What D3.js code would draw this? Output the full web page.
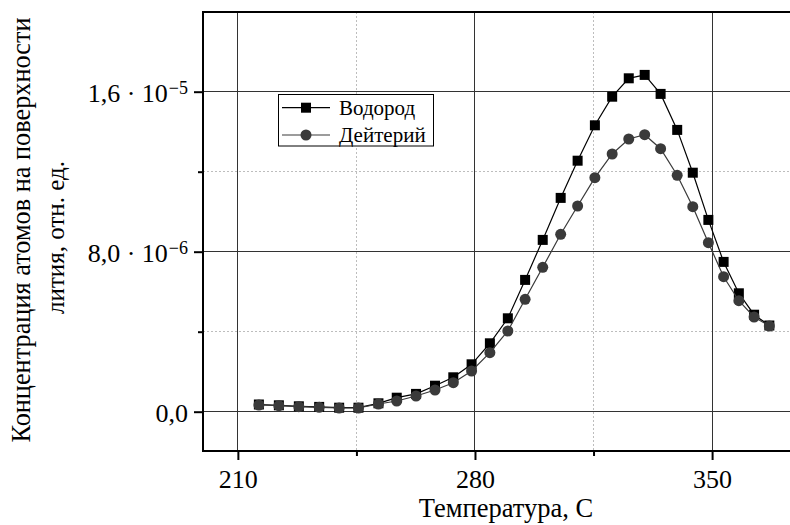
<!DOCTYPE html>
<html><head><meta charset="utf-8">
<script src="https://cdn.jsdelivr.net/npm/d3@7"></script>
<style>
body{margin:0;background:#fff}
svg{display:block}
</style>
</head><body>
<svg id="c" width="790" height="525" font-family="'Liberation Serif', serif"></svg>
<script>
// ---- data ----
const temperature = [216.2, 222.1, 228.0, 234.0, 239.9, 245.6, 251.5, 256.9, 262.6, 268.2,
  273.6, 279.0, 284.4, 289.7, 294.8, 300.0, 305.3, 310.3, 315.4, 320.5,
  325.4, 330.1, 334.8, 339.7, 344.3, 348.9, 353.4, 357.9, 362.4, 366.9];
const hydrogen = [0.36e-6, 0.32e-6, 0.27e-6, 0.24e-6, 0.20e-6, 0.20e-6, 0.42e-6, 0.70e-6, 0.89e-6, 1.30e-6,
  1.72e-6, 2.37e-6, 3.42e-6, 4.67e-6, 6.59e-6, 8.59e-6, 10.69e-6, 12.55e-6, 14.32e-6, 15.75e-6,
  16.67e-6, 16.84e-6, 15.89e-6, 14.09e-6, 11.95e-6, 9.59e-6, 7.49e-6, 5.92e-6, 4.85e-6, 4.31e-6];
const deuterium = [0.335e-6, 0.30e-6, 0.25e-6, 0.22e-6, 0.185e-6, 0.185e-6, 0.385e-6, 0.535e-6, 0.785e-6, 1.085e-6,
  1.45e-6, 2.035e-6, 2.95e-6, 4.035e-6, 5.62e-6, 7.22e-6, 8.87e-6, 10.285e-6, 11.70e-6, 12.885e-6,
  13.635e-6, 13.85e-6, 13.15e-6, 11.82e-6, 10.25e-6, 8.45e-6, 6.75e-6, 5.55e-6, 4.735e-6, 4.285e-6];
const seriesNames = ["Водород", "Дейтерий"];
const xMajor = [210, 280, 350];
const xMinor = [245, 315];
const yMajor = [0, 8e-6, 1.6e-5];
const yMinor = [4e-6, 1.2e-5];
const yTickBase = ["0,0", "8,0 · 10", "1,6 · 10"];
const yTickExp = ["", "−6", "−5"];
const xTitle = "Температура, С";
const yTitle1 = "Концентрация атомов на поверхности";
const yTitle2 = "лития, отн. ед.";

// ---- scales ----
const FONT = "Liberation Serif";
const svg = d3.select("#c");
const x = d3.scaleLinear().domain([200, 373]).range([204, 790]);
const y = d3.scaleLinear().domain([-2e-6, 2e-5]).range([451.7, 11.7]);
const cr = v => Math.floor(v) + 0.5;
const L = 203, R = 790, T = 12, B = 451;

// grid
const g = svg.append("g");
g.selectAll(".xmin").data(xMinor).join("line")
  .attr("x1", d => cr(x(d))).attr("x2", d => cr(x(d))).attr("y1", T).attr("y2", B)
  .attr("stroke", "#bdbdbd").attr("stroke-width", 1).attr("stroke-dasharray", "2,2");
g.selectAll(".ymin").data(yMinor).join("line")
  .attr("y1", d => cr(y(d))).attr("y2", d => cr(y(d))).attr("x1", L).attr("x2", R)
  .attr("stroke", "#bdbdbd").attr("stroke-width", 1).attr("stroke-dasharray", "2,2");
g.selectAll(".xmaj").data(xMajor).join("line")
  .attr("x1", d => cr(x(d))).attr("x2", d => cr(x(d))).attr("y1", T).attr("y2", B)
  .attr("stroke", "#333").attr("stroke-width", 1);
g.selectAll(".ymaj").data(yMajor).join("line")
  .attr("y1", d => cr(y(d))).attr("y2", d => cr(y(d))).attr("x1", L).attr("x2", R)
  .attr("stroke", "#333").attr("stroke-width", 1);

// axes ticks
const fs = 26;
const xAxis = svg.append("g").attr("transform", `translate(0,${B})`)
  .call(d3.axisBottom(x).tickValues(xMajor).tickSize(9).tickSizeOuter(0).tickPadding(10));
xAxis.attr("font-family", FONT).attr("font-size", fs);
xAxis.select(".domain").remove();
xAxis.selectAll("line").attr("stroke", "#000").attr("stroke-width", 2);
xAxis.selectAll("text").attr("fill", "#000");
const xAxisMin = svg.append("g").attr("transform", `translate(0,${B})`)
  .call(d3.axisBottom(x).tickValues(xMinor).tickSize(5).tickFormat(""));
xAxisMin.select(".domain").remove();
xAxisMin.selectAll("line").attr("stroke", "#000").attr("stroke-width", 2);

const yAxis = svg.append("g").attr("transform", `translate(${L},0)`)
  .call(d3.axisLeft(y).tickValues(yMajor).tickSize(9).tickSizeOuter(0).tickPadding(6).tickFormat(""));
yAxis.attr("font-family", FONT).attr("font-size", fs);
yAxis.select(".domain").remove();
yAxis.selectAll("line").attr("stroke", "#000").attr("stroke-width", 2);
yAxis.selectAll("text").each(function(d, i) {
  const t = d3.select(this).attr("fill", "#000").attr("dy", "0.36em");
  t.text(null);
  t.append("tspan").text(yTickBase[i]);
  if (yTickExp[i]) t.append("tspan").attr("font-size", 18).attr("dy", -8).attr("dx", 1).text(yTickExp[i]);
});
const yAxisMin = svg.append("g").attr("transform", `translate(${L},0)`)
  .call(d3.axisLeft(y).tickValues(yMinor).tickSize(5).tickFormat(""));
yAxisMin.select(".domain").remove();
yAxisMin.selectAll("line").attr("stroke", "#000").attr("stroke-width", 2);

// spines
svg.append("line").attr("x1", L).attr("x2", L).attr("y1", T - 1).attr("y2", B + 1).attr("stroke", "#000").attr("stroke-width", 2);
svg.append("line").attr("x1", L).attr("x2", R).attr("y1", T).attr("y2", T).attr("stroke", "#000").attr("stroke-width", 2);
svg.append("line").attr("x1", L).attr("x2", R).attr("y1", B).attr("y2", B).attr("stroke", "#000").attr("stroke-width", 2);

// series
const hData = temperature.map((t, i) => ({t, v: hydrogen[i]}));
const dData = temperature.map((t, i) => ({t, v: deuterium[i]}));
const line = d3.line().x(d => x(d.t)).y(d => y(d.v));
const sq = 10, rc = 5.5;
const cH = "#000", cD = "#3a3a3a";
svg.append("path").datum(hData).attr("d", line).attr("fill", "none").attr("stroke", cH).attr("stroke-width", 1.2);
svg.selectAll(".hs").data(hData).join("rect")
  .attr("x", d => x(d.t) - sq / 2).attr("y", d => y(d.v) - sq / 2).attr("width", sq).attr("height", sq).attr("fill", cH);
svg.append("path").datum(dData).attr("d", line).attr("fill", "none").attr("stroke", cD).attr("stroke-width", 1.2);
svg.selectAll(".dc").data(dData).join("circle")
  .attr("cx", d => x(d.t)).attr("cy", d => y(d.v)).attr("r", rc).attr("fill", cD);

// legend
const lg = svg.append("g").attr("font-family", FONT);
lg.append("rect").attr("x", 278.5).attr("y", 94.5).attr("width", 155).attr("height", 51.5)
  .attr("fill", "#fff").attr("stroke", "#000").attr("stroke-width", 1);
const rows = [107.7, 135];
[cH, cD].forEach((c, i) => {
  lg.append("line").attr("x1", 282).attr("x2", 330).attr("y1", rows[i]).attr("y2", rows[i]).attr("stroke", c).attr("stroke-width", 1.2);
  if (i === 0) lg.append("rect").attr("x", 306 - sq / 2).attr("y", rows[i] - sq / 2).attr("width", sq).attr("height", sq).attr("fill", c);
  else lg.append("circle").attr("cx", 306).attr("cy", rows[i]).attr("r", rc).attr("fill", c);
  lg.append("text").attr("x", 339).attr("y", rows[i]).attr("dy", "0.34em").attr("font-size", 21).attr("fill", "#000").text(seriesNames[i]);
});

// titles
const tg = svg.append("g").attr("font-family", FONT).attr("fill", "#000");
tg.append("text").attr("x", 506).attr("y", 517).attr("text-anchor", "middle").attr("font-size", 26.5).text(xTitle);
tg.append("text").attr("transform", "translate(29.5,230) rotate(-90)").attr("text-anchor", "middle").attr("font-size", 26.3).text(yTitle1);
tg.append("text").attr("transform", "translate(64,237.5) rotate(-90)").attr("text-anchor", "middle").attr("font-size", 25).text(yTitle2);
</script>
</body></html>
